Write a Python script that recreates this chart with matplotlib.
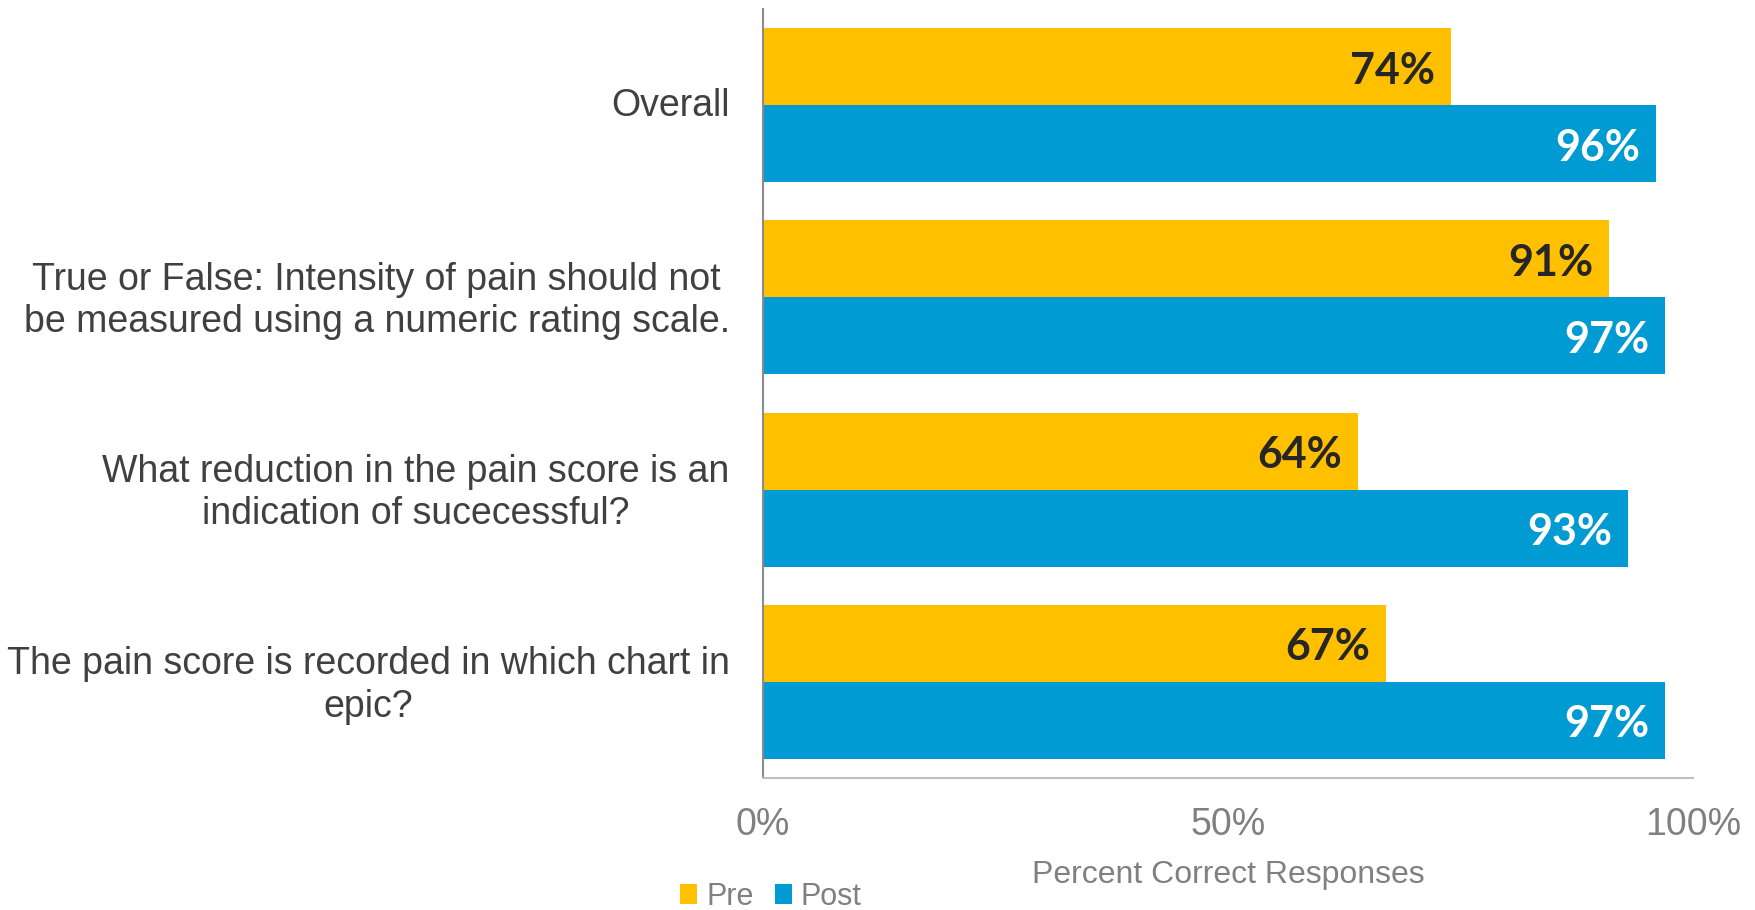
import matplotlib
matplotlib.use("Agg")
import matplotlib.pyplot as plt
import matplotlib.transforms as mtransforms
from matplotlib.patches import Patch
import numpy as np

categories = [
    "Overall",
    "True or False: Intensity of pain should not\nbe measured using a numeric rating scale.",
    "What reduction in the pain score is an\nindication of sucecessful?",
    "The pain score is recorded in which chart in\nepic?",
]
pre_values = [74, 91, 64, 67]
post_values = [96, 97, 93, 97]
series_names = ["Pre", "Post"]
x_ticks = [0, 50, 100]
x_tick_labels = ["0%", "50%", "100%"]

PRE_COLOR = "#FFC000"
POST_COLOR = "#009BD2"

plt.rcParams["font.family"] = ["Liberation Sans", "DejaVu Sans"]

fig = plt.figure(figsize=(17.56, 9.10), dpi=100)
ax = fig.add_axes([763 / 1756, 1 - 778 / 910, (1693 - 763) / 1756, (778 - 9) / 910])

y = np.arange(len(categories))
h = 0.4
pre_bars = ax.barh(y - h / 2, pre_values, height=h, color=PRE_COLOR)
post_bars = ax.barh(y + h / 2, post_values, height=h, color=POST_COLOR)

ax.set_ylim(len(categories) - 0.5, -0.5)
ax.set_xlim(0, 100)

for bars, vals, col in ((pre_bars, pre_values, "#262626"), (post_bars, post_values, "white")):
    for b, v in zip(bars, vals):
        ax.annotate(f"{v}%", xy=(v, b.get_y() + b.get_height() / 2),
                    xytext=(-16, -4), textcoords="offset pixels",
                    ha="right", va="center", fontsize=31, fontweight="bold",
                    family=["Lato", "DejaVu Sans"], color=col)

ax.set_yticks(y)
ax.set_yticklabels(categories, fontsize=27, color="#404040", ma="center",
                   linespacing=1.22)
ax.set_xticks(x_ticks)
ax.set_xticklabels(x_tick_labels, fontsize=27, color="#808080")
ax.tick_params(axis="y", length=0, pad=24)
ax.tick_params(axis="x", length=0, pad=21)
ax.set_xlabel("Percent Correct Responses", fontsize=23, color="#808080", labelpad=12)

# nudge category labels up slightly
nudge = mtransforms.ScaledTranslation(0, 3.5 / 100, fig.dpi_scale_trans)
for lbl in ax.get_yticklabels():
    lbl.set_transform(lbl.get_transform() + nudge)

for s in ("top", "right"):
    ax.spines[s].set_visible(False)
ax.spines["left"].set_color("#8C8C8C")
ax.spines["left"].set_linewidth(1.5)
ax.spines["bottom"].set_color("#BFBFBF")
ax.spines["bottom"].set_linewidth(1.5)

handles = [Patch(facecolor=PRE_COLOR), Patch(facecolor=POST_COLOR)]
leg = fig.legend(handles, series_names, loc="center",
                 bbox_to_anchor=(771 / 1756, 1 - 897 / 910), ncol=2, frameon=False,
                 fontsize=22, handlelength=0.55, handleheight=0.65, handletextpad=0.3,
                 columnspacing=0.7, labelcolor="#808080")

fig.savefig("out.png", dpi=100)
